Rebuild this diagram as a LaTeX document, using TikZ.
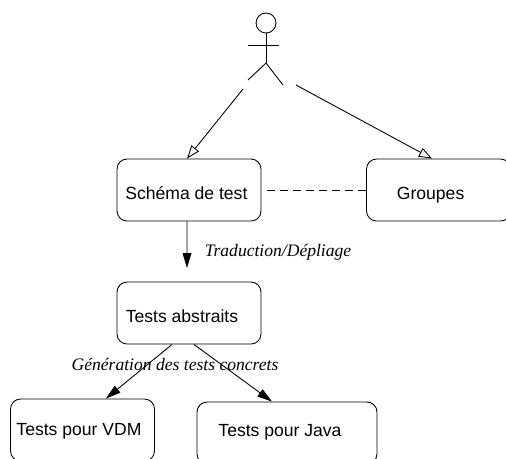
\documentclass[tikz,border=0pt]{standalone}
\usepackage{fontspec}
\setmainfont{Liberation Sans}
\newfontfamily\stepfont{Liberation Serif}
\usetikzlibrary{arrows.meta}

\tikzset{
	box/.style = {rectangle, draw, rounded corners = 0.2cm, minimum width = 2.88cm, minimum height = 1.24cm, inner sep = 0pt, text height = 10.6pt, text depth = 0pt},
	steplabel/.style = {anchor = base, inner sep = 0pt, font = \stepfont\itshape},
	open/.style = {-{Triangle[open, length = 7.5pt, width = 5.5pt]}},
	solid head/.style = {-{Triangle[length = 8.5pt, width = 5pt]}}
}

\begin{document}
\begin{tikzpicture}[x = 0.02cm, y = -0.02cm, line width = 0.5pt]
\useasboundingbox (0, 0) rectangle (506, 458);
\clip (0, 0) rectangle (506, 458);

\path	(189, 190)		node(schema)		[box]								{\kern-3pt Schéma de test}
		(438.5, 190)	node(groupes)		[box]								{\kern-9pt Groupes}
		(189, 313)		node(abstraits)		[box]								{\kern-8pt Tests abstraits}
		(82.5, 430)		node(vdm)			[box, text height = 6.5pt]			{\kern-4pt Tests pour VDM}
		(287, 433)		node(java)			[box, minimum width = 3.6cm, text height = 3.4pt]	{\kern-8pt Tests pour Java}
		(278, 256)		node(traduction)	[steplabel]							{Traduction/Dépliage}
		(175, 370)		node(generation)	[steplabel]							{Génération des tests concrets}
		(266, 23)		node(head)			[circle, draw, minimum size = 0.4cm, inner sep = 0pt]	{};

\coordinate (neck)			at (266, 33);
\coordinate (arm_left)		at (248, 45);
\coordinate (arm_right)		at (279, 45);
\coordinate (hip)			at (266, 63);
\coordinate (leg_left)		at (248, 80);
\coordinate (leg_right)		at (283, 85);
\coordinate (actor_left)	at (243, 89);
\coordinate (actor_right)	at (296, 85);
\coordinate (traduction_end)	at (187, 268);

% actor
\draw	(head.south)	--	(hip);
\draw	(arm_left)		--	(arm_right);
\draw	(leg_left)		--	(hip)	--	(leg_right);

\draw[open]			(actor_left)					--	([xshift = -0.04cm]schema.north);
\draw[open]			(actor_right)					--	([xshift = -0.13cm]groupes.north);
\draw[dash pattern = on 4.5pt off 2.9pt]	([xshift = 0.12cm]schema.east)	--	(groupes.west);

\draw[solid head]	([xshift = -0.04cm]schema.south)	--	(traduction_end);
\draw[solid head]	([xshift = -0.34cm]abstraits.south)	--	([xshift = 0.47cm]vdm.north);
\draw[solid head]	([xshift = 0.1cm]abstraits.south)	--	([xshift = -0.3cm]java.north);
\end{tikzpicture}
\end{document}
